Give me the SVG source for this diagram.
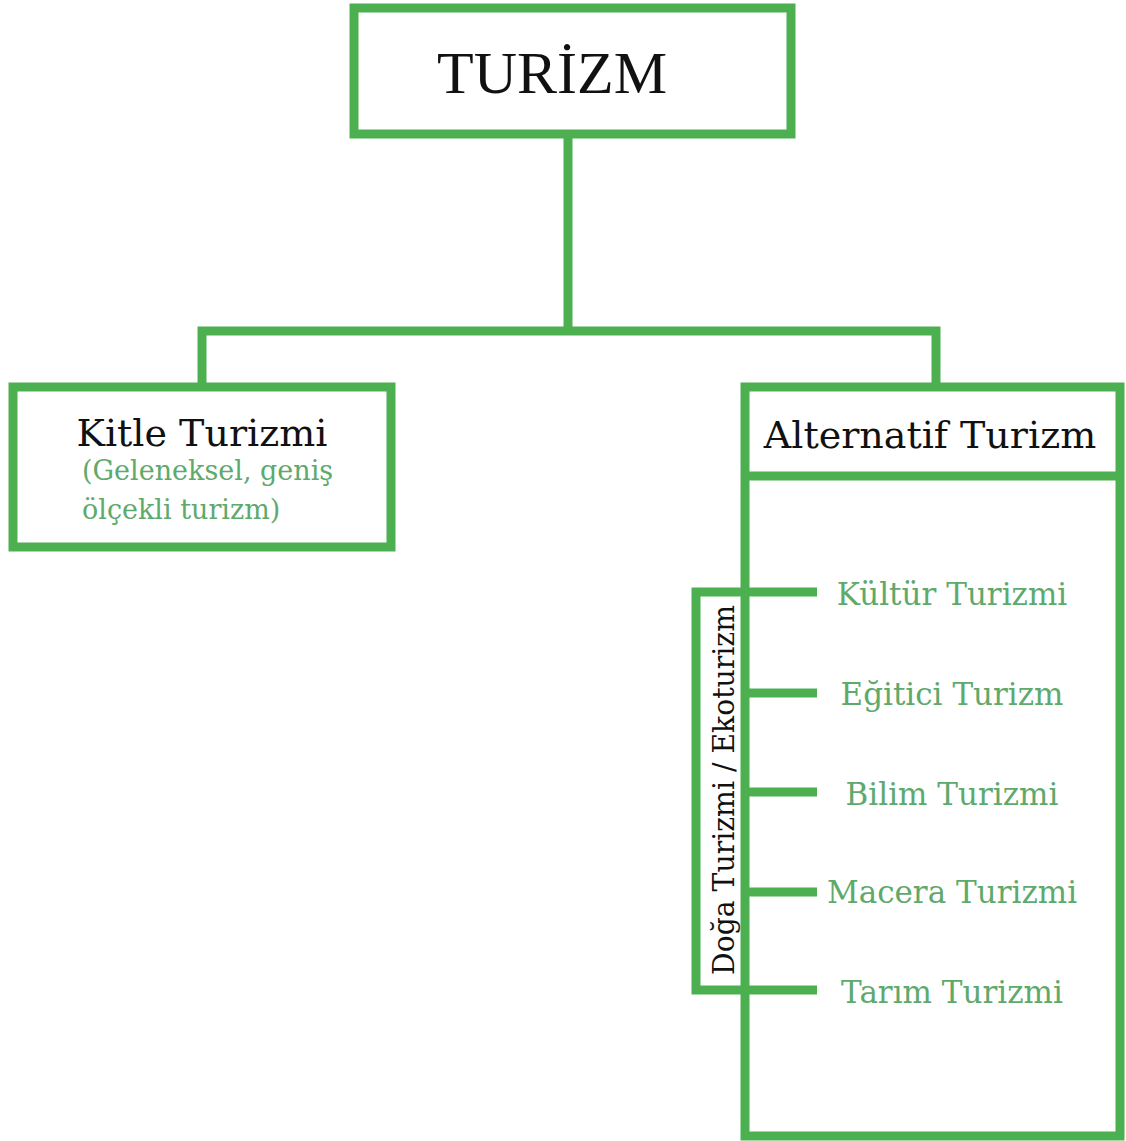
<svg xmlns="http://www.w3.org/2000/svg" width="1126" height="1141" viewBox="0 0 1126 1141">
<style>
.box{fill:#fff;stroke:#4caf50;stroke-width:9}
.ln{fill:none;stroke:#4caf50;stroke-width:9}
.t{font-family:"DejaVu Serif","Liberation Serif",serif;fill:#111}
.g{font-family:"DejaVu Serif","Liberation Serif",serif;fill:#5ea96c}
</style>
<rect width="1126" height="1141" fill="#fff"/>
<g id="turizm">
<rect class="box" x="354" y="8" width="437" height="126"/>
<text x="552" y="93" font-family="Liberation Serif,serif" font-size="60" fill="#111" text-anchor="middle">TURİZM</text>
</g>
<g id="kitle">
<rect class="box" x="13" y="387" width="378" height="160"/>
<text class="t" x="202" y="446" font-size="38" text-anchor="middle">Kitle Turizmi</text>
<text class="g" x="82" y="480" font-size="27">(Geleneksel, geniş</text>
<text class="g" x="82" y="519" font-size="27">ölçekli turizm)</text>
</g>
<g id="alternatif">
<rect class="box" x="745" y="387" width="375" height="749"/>
<line class="ln" x1="745" y1="476" x2="1120" y2="476"/>
<text class="t" x="930" y="448" font-size="38" text-anchor="middle">Alternatif Turizm</text>
</g>
<g id="doga">
<path class="ln" d="M745 592H696V990H745"/>
<text class="t" transform="translate(734 790) rotate(-90)" font-size="29" text-anchor="middle" textLength="370" lengthAdjust="spacingAndGlyphs">Doğa Turizmi / Ekoturizm</text>
</g>
<g id="kultur"><text class="g" x="952" y="605" font-size="31" text-anchor="middle">Kültür Turizmi</text></g>
<g id="egitici"><text class="g" x="952" y="705" font-size="31" text-anchor="middle">Eğitici Turizm</text></g>
<g id="bilim"><text class="g" x="952" y="805" font-size="31" text-anchor="middle">Bilim Turizmi</text></g>
<g id="macera"><text class="g" x="952" y="903" font-size="31" text-anchor="middle">Macera Turizmi</text></g>
<g id="tarim"><text class="g" x="952" y="1003" font-size="31" text-anchor="middle">Tarım Turizmi</text></g>
<g id="connectors">
<path class="ln" d="M568 138V331M202 383V331H936V383"/>
<path class="ln" d="M741 592H817M741 693H817M741 792H817M741 892H817M741 990H817"/>
</g>
</svg>
